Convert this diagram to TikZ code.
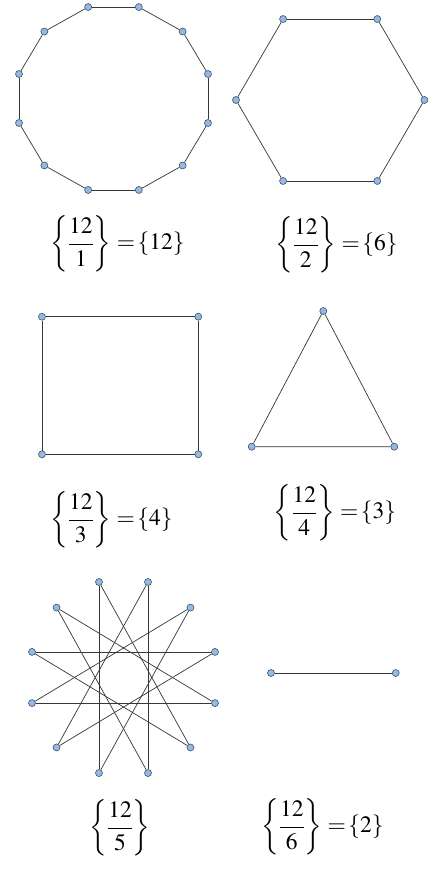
\documentclass[tikz,border=0pt]{standalone}
\usepackage{mathptmx}
\usepackage{fontspec}
\setmainfont{Liberation Serif}
\definecolor{dotfill}{RGB}{150,185,225}
\definecolor{dotedge}{RGB}{60,80,115}
\definecolor{linegray}{RGB}{55,55,55}
\newcommand{\eqsign}{\mskip2mu{=}\mskip2mu}
\tikzset{
  edge/.style={draw=linegray, line width=0.7pt},
  dot/.style={circle, inner sep=0pt, minimum size=7pt, fill=dotfill, draw=dotedge, line width=0.6pt},
  lbl/.style={font=\fontsize{23.5}{28}\selectfont, inner sep=0pt}
}
\begin{document}
\begin{tikzpicture}[x=1pt,y=-1pt]
\useasboundingbox[fill=white] (0,0) rectangle (437,895);
% {12}
\foreach \k in {0,...,11}
  \node[dot] (a\k) at ({113.5+97.8*cos(15+30*\k)}, {98.5-94.7*sin(15+30*\k)}) {};
\foreach \k [evaluate=\k as \n using {int(mod(\k+1,12))}] in {0,...,11}
  \draw[edge] (a\k) -- (a\n);
% {6}
\foreach \k in {0,...,5}
  \node[dot] (h\k) at ({330.2+94.2*cos(60*\k)}, {100-93.5*sin(60*\k)}) {};
\foreach \k [evaluate=\k as \n using {int(mod(\k+1,6))}] in {0,...,5}
  \draw[edge] (h\k) -- (h\n);
% {4}
\node[dot] (s1) at (42,316.7) {};
\node[dot] (s2) at (198.3,316.7) {};
\node[dot] (s3) at (198.3,454.3) {};
\node[dot] (s4) at (42,454.3) {};
\draw[edge] (s1) -- (s2) -- (s3) -- (s4) -- (s1);
% {3}
\node[dot] (t1) at (323.3,311) {};
\node[dot] (t2) at (394.3,446.7) {};
\node[dot] (t3) at (251.7,446.7) {};
\draw[edge] (t1) -- (t2) -- (t3) -- (t1);
% {12/5}
\foreach \k in {0,...,11}
  \node[dot] (p\k) at ({123.5+94.7*cos(15+30*\k)}, {677.5-98.9*sin(15+30*\k)}) {};
\foreach \k [evaluate=\k as \n using {int(mod(\k+5,12))}] in {0,...,11}
  \draw[edge] (p\k) -- (p\n);
% {2}
\node[dot] (d1) at (271,673) {};
\node[dot] (d2) at (395.7,673) {};
\draw[edge] (d1) -- (d2);
% labels
\node[lbl] (l1) at (117.5,244) {$\left\{\displaystyle\frac{12}{1}\right\}\eqsign\{12\}$};
\node[lbl] (l2) at (336.5,245) {$\left\{\displaystyle\frac{12}{2}\right\}\eqsign\{6\}$};
\node[lbl] (l3) at (111.5,520) {$\left\{\displaystyle\frac{12}{3}\right\}\eqsign\{4\}$};
\node[lbl] (l4) at (335,513) {$\left\{\displaystyle\frac{12}{4}\right\}\eqsign\{3\}$};
\node[lbl] (l5) at (120,828) {$\left\{\displaystyle\frac{12}{5}\right\}$};
\node[lbl] (l6) at (322.5,827) {$\left\{\displaystyle\frac{12}{6}\right\}\eqsign\{2\}$};
\end{tikzpicture}
\end{document}
